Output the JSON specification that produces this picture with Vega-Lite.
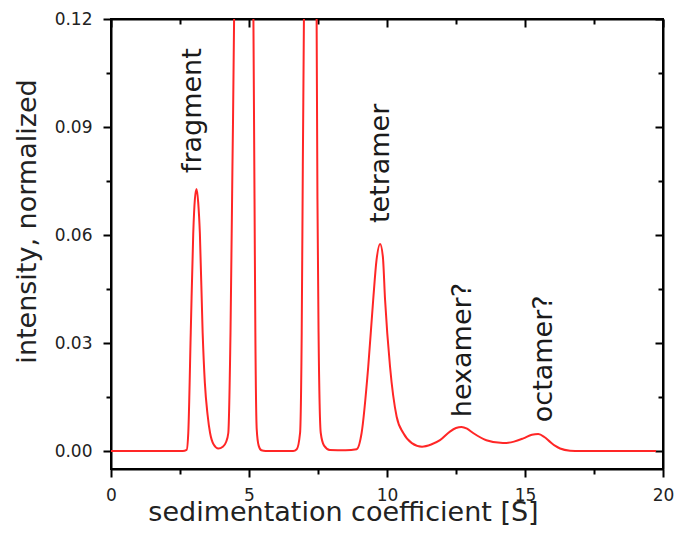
{
  "$schema": "https://vega.github.io/schema/vega-lite/v6.json",
  "width": 552,
  "height": 450,
  "autosize": "none",
  "padding": {"left": 111, "top": 19, "right": 13, "bottom": 73},
  "background": "white",
  "config": {
    "font": "DejaVu Sans",
    "view": {"stroke": "black", "strokeWidth": 2},
    "axis": {"grid": false, "domainColor": "black", "domainWidth": 2, "tickColor": "black", "tickWidth": 2, "labelColor": "#222", "titleColor": "#222", "labelFlush": false, "labelOverlap": false, "labelBound": false, "titleFontWeight": "normal"}
  },
  "datasets": {
    "curve": [
      {"s": 0, "v": 0}, {"s": 1, "v": 0}, {"s": 2, "v": 0}, {"s": 2.6, "v": 0},
      {"s": 2.74, "v": 0.0003}, {"s": 2.8, "v": 0.005}, {"s": 2.89, "v": 0.033}, {"s": 2.98, "v": 0.0605},
      {"s": 3.04, "v": 0.07}, {"s": 3.1, "v": 0.0728}, {"s": 3.16, "v": 0.069}, {"s": 3.22, "v": 0.0605},
      {"s": 3.32, "v": 0.033}, {"s": 3.4, "v": 0.019}, {"s": 3.5, "v": 0.01}, {"s": 3.59, "v": 0.005},
      {"s": 3.72, "v": 0.0018}, {"s": 3.89, "v": 0.0007}, {"s": 4.05, "v": 0.0012}, {"s": 4.17, "v": 0.0025},
      {"s": 4.25, "v": 0.005}, {"s": 4.33, "v": 0.033}, {"s": 4.4, "v": 0.079}, {"s": 4.46, "v": 0.12},
      {"s": 4.55, "v": 0.25}, {"s": 4.8, "v": 0.45}, {"s": 5.05, "v": 0.25}, {"s": 5.16, "v": 0.12},
      {"s": 5.2, "v": 0.07}, {"s": 5.23, "v": 0.033}, {"s": 5.28, "v": 0.006}, {"s": 5.35, "v": 0.0015},
      {"s": 5.45, "v": 0.0002}, {"s": 5.6, "v": 0}, {"s": 6.6, "v": 0}, {"s": 6.73, "v": 0.0005},
      {"s": 6.85, "v": 0.005}, {"s": 6.91, "v": 0.033}, {"s": 6.95, "v": 0.079}, {"s": 6.99, "v": 0.12},
      {"s": 7.08, "v": 0.25}, {"s": 7.22, "v": 0.4}, {"s": 7.37, "v": 0.25}, {"s": 7.45, "v": 0.12},
      {"s": 7.48, "v": 0.07}, {"s": 7.52, "v": 0.033}, {"s": 7.6, "v": 0.005}, {"s": 7.72, "v": 0.0015},
      {"s": 7.93, "v": 0.0003}, {"s": 8.5, "v": 0.0002}, {"s": 8.9, "v": 0.0005}, {"s": 9.08, "v": 0.005},
      {"s": 9.32, "v": 0.0234}, {"s": 9.5, "v": 0.042}, {"s": 9.62, "v": 0.053}, {"s": 9.75, "v": 0.0575},
      {"s": 9.85, "v": 0.054}, {"s": 9.93, "v": 0.042}, {"s": 10.11, "v": 0.0234}, {"s": 10.35, "v": 0.0095},
      {"s": 10.59, "v": 0.005}, {"s": 10.9, "v": 0.0022}, {"s": 11.27, "v": 0.0012}, {"s": 11.6, "v": 0.0018},
      {"s": 11.92, "v": 0.003}, {"s": 12.28, "v": 0.0054}, {"s": 12.5, "v": 0.0064}, {"s": 12.7, "v": 0.0067},
      {"s": 12.9, "v": 0.0062}, {"s": 13.12, "v": 0.005}, {"s": 13.6, "v": 0.003}, {"s": 14.2, "v": 0.0022},
      {"s": 14.6, "v": 0.0026}, {"s": 14.94, "v": 0.0035}, {"s": 15.25, "v": 0.0045}, {"s": 15.48, "v": 0.0047},
      {"s": 15.7, "v": 0.0039}, {"s": 15.9, "v": 0.0026}, {"s": 16.1, "v": 0.0014}, {"s": 16.27, "v": 0.0007},
      {"s": 16.63, "v": 0.0001}, {"s": 17, "v": 0}, {"s": 19.75, "v": 0}
    ],
    "labels": [
      {"label": "fragment", "s": 3.25, "v": 0.0772},
      {"label": "tetramer", "s": 10.07, "v": 0.0633},
      {"label": "hexamer?", "s": 13.04, "v": 0.0094},
      {"label": "octamer?", "s": 15.98, "v": 0.008}
    ]
  },
  "layer": [
    {
      "data": {"name": "curve"},
      "mark": {"type": "line", "color": "#ff2626", "strokeWidth": 2, "clip": true, "interpolate": "monotone"},
      "encoding": {
        "x": {"field": "s", "type": "quantitative", "scale": {"domain": [0, 20], "nice": false, "zero": false},
          "axis": {"orient": "bottom", "values": [0, 5, 10, 15, 20], "tickSize": 8, "labelFontSize": 17, "labelBaseline": "alphabetic", "labelPadding": 23,
            "title": "sedimentation coefficient [S]", "titleFontSize": 27, "titleX": 232, "titleY": 51, "titleBaseline": "alphabetic", "titleAlign": "center", "titleAnchor": "start"}},
        "y": {"field": "v", "type": "quantitative", "scale": {"domain": [-0.005, 0.12], "nice": false, "zero": false},
          "axis": {"orient": "left", "values": [0, 0.03, 0.06, 0.09, 0.12], "format": ".2f", "tickSize": 8, "labelFontSize": 17, "labelPadding": 11,
            "title": "intensity, normalized", "titleFontSize": 27, "titleX": -76, "titleY": 202, "titleAngle": 270, "titleBaseline": "alphabetic", "titleAlign": "center", "titleAnchor": "start"}}
      }
    },
    {
      "data": {"name": "curve"},
      "mark": {"type": "line", "opacity": 0},
      "encoding": {
        "x": {"field": "s", "type": "quantitative", "scale": {"domain": [0, 20], "nice": false, "zero": false},
          "axis": {"orient": "bottom", "values": [2.5, 7.5, 12.5, 17.5], "tickSize": 5, "labels": false, "domain": false, "title": null}},
        "y": {"field": "v", "type": "quantitative", "scale": {"domain": [-0.005, 0.12], "nice": false, "zero": false},
          "axis": {"orient": "left", "values": [0.015, 0.045, 0.075, 0.105], "tickSize": 5, "labels": false, "domain": false, "title": null}}
      }
    },
    {
      "data": {"name": "curve"},
      "mark": {"type": "line", "opacity": 0},
      "encoding": {
        "x": {"field": "s", "type": "quantitative", "scale": {"domain": [0, 20], "nice": false, "zero": false},
          "axis": {"orient": "top", "values": [0, 5, 10, 15, 20], "tickSize": -8, "labels": false, "title": null}},
        "y": {"field": "v", "type": "quantitative", "scale": {"domain": [-0.005, 0.12], "nice": false, "zero": false},
          "axis": {"orient": "right", "values": [0, 0.03, 0.06, 0.09, 0.12], "tickSize": -8, "labels": false, "title": null}}
      }
    },
    {
      "data": {"name": "curve"},
      "mark": {"type": "line", "opacity": 0},
      "encoding": {
        "x": {"field": "s", "type": "quantitative", "scale": {"domain": [0, 20], "nice": false, "zero": false},
          "axis": {"orient": "top", "values": [2.5, 7.5, 12.5, 17.5], "tickSize": -5, "labels": false, "domain": false, "title": null}},
        "y": {"field": "v", "type": "quantitative", "scale": {"domain": [-0.005, 0.12], "nice": false, "zero": false},
          "axis": {"orient": "right", "values": [0.015, 0.045, 0.075, 0.105], "tickSize": -5, "labels": false, "domain": false, "title": null}}
      }
    },
    {
      "data": {"name": "labels"},
      "mark": {"type": "text", "angle": 270, "align": "left", "baseline": "alphabetic", "fontSize": 27, "color": "#1a1a1a"},
      "encoding": {
        "x": {"field": "s", "type": "quantitative", "axis": null},
        "y": {"field": "v", "type": "quantitative", "axis": null},
        "text": {"field": "label"}
      }
    }
  ],
  "resolve": {"axis": {"x": "independent", "y": "independent"}}
}
